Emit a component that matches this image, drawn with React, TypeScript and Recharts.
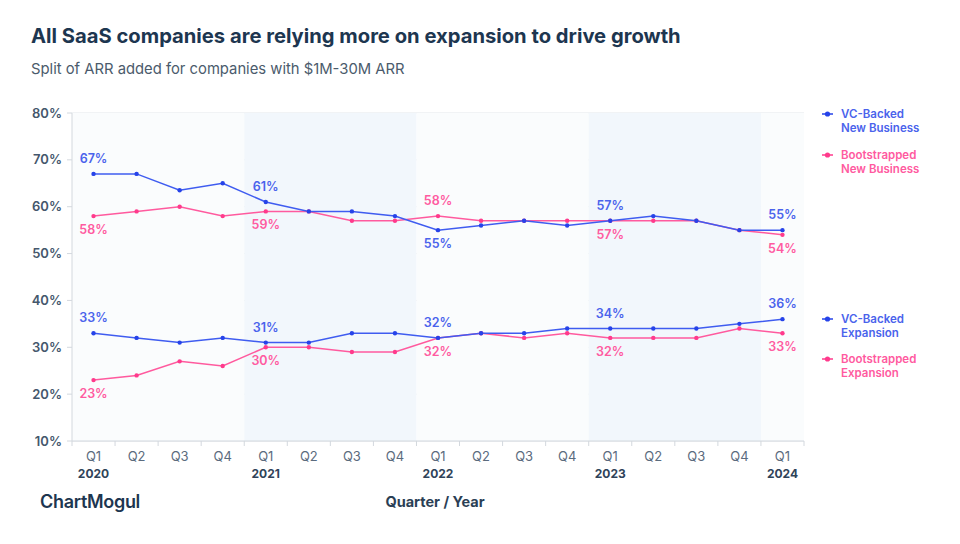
import React from 'react';
import { LineChart, Line, XAxis, YAxis, CartesianGrid, ReferenceArea, LabelList } from 'recharts';

const quarters = ['Q1', 'Q2', 'Q3', 'Q4', 'Q1', 'Q2', 'Q3', 'Q4', 'Q1', 'Q2', 'Q3', 'Q4', 'Q1', 'Q2', 'Q3', 'Q4', 'Q1'];
const years = ['2020', '2021', '2022', '2023', '2024'];

const vcNew = [67, 67, 63.5, 65, 61, 59, 59, 58, 55, 56, 57, 56, 57, 58, 57, 55, 55];
const bsNew = [58, 59, 60, 58, 59, 59, 57, 57, 58, 57, 57, 57, 57, 57, 57, 55, 54];
const vcExp = [33, 32, 31, 32, 31, 31, 33, 33, 32, 33, 33, 34, 34, 34, 34, 35, 36];
const bsExp = [23, 24, 27, 26, 30, 30, 29, 29, 32, 33, 32, 33, 32, 32, 32, 34, 33];

const yTicks = [10, 20, 30, 40, 50, 60, 70, 80];

const BLUE = '#3f5cf0';
const BLUE_DOT = '#2643e9';
const BLUE_TEXT = '#4a63ec';
const PINK = '#ff5a9e';
const PINK_DOT = '#ff3a8c';
const PINK_TEXT = '#ff5aa0';
const NAVY = '#1d3650';

const data = quarters.map((q, i) => ({
  i,
  q,
  year: i % 4 === 0 ? years[i / 4] : '',
  vcNew: vcNew[i],
  bsNew: bsNew[i],
  vcExp: vcExp[i],
  bsExp: bsExp[i],
}));

// tick values: category centres (labels) and band edges (tick marks)
const xTicks: number[] = [];
for (let k = -0.5; k <= quarters.length - 0.5; k += 0.5) xTicks.push(k);

const yearBands = years.map((y, yi) => ({
  year: y,
  x1: yi * 4 - 0.5,
  x2: Math.min(yi * 4 + 3.5, quarters.length - 0.5),
  shaded: yi % 2 === 1,
}));

const font = 'Inter, "Noto Sans", sans-serif';

function XTick(props: any) {
  const { x, y, payload } = props;
  const v = payload.value;
  if (!Number.isInteger(v)) {
    return <line x1={x} x2={x} y1={y} y2={y + 5} stroke="#d3d8de" strokeWidth={1} />;
  }
  const d = data[v];
  return (
    <g>
      <text x={x} y={y + 19.5} textAnchor="middle" fontFamily={font} fontSize={13} fill="#5b6b7e">
        {d.q}
      </text>
      {d.year && (
        <text x={x} y={y + 36.5} textAnchor="middle" fontFamily={font} fontSize={12} fontWeight={700} fill="#2f4359">
          {d.year}
        </text>
      )}
    </g>
  );
}

function makeLabel(own: number[], other: number[], color: string, preferAbove: boolean) {
  return (props: any) => {
    const { x, y, index } = props;
    if (index % 4 !== 0) return null;
    const above = preferAbove ? own[index] >= other[index] : own[index] > other[index];
    return (
      <text
        x={x}
        y={above ? y - 11 : y + 18}
        textAnchor="middle"
        fontFamily={font}
        fontSize={12.5}
        fontWeight={600}
        fill={color}
      >
        {`${own[index]}%`}
      </text>
    );
  };
}

const legendItems = [
  { lines: ['VC-Backed', 'New Business'], color: BLUE_TEXT, dot: BLUE_DOT, top: 107 },
  { lines: ['Bootstrapped', 'New Business'], color: PINK_TEXT, dot: PINK_DOT, top: 148 },
  { lines: ['VC-Backed', 'Expansion'], color: BLUE_TEXT, dot: BLUE_DOT, top: 312 },
  { lines: ['Bootstrapped', 'Expansion'], color: PINK_TEXT, dot: PINK_DOT, top: 352 },
];

export default function App() {
  return (
    <div style={{ position: 'absolute', left: 0, top: 0, width: 960, height: 544, background: '#fff', fontFamily: font }}>
      <div style={{ position: 'absolute', left: 31, top: 23, fontSize: 20.2, fontWeight: 700, color: NAVY, whiteSpace: 'nowrap' }}>
        All SaaS companies are relying more on expansion to drive growth
      </div>
      <div style={{ position: 'absolute', left: 31, top: 60, fontSize: 14.8, color: '#4b5b6c', whiteSpace: 'nowrap' }}>
        Split of ARR added for companies with $1M-30M ARR
      </div>

      <LineChart
        width={960}
        height={544}
        data={data}
        margin={{ top: 113, right: 156, bottom: 63, left: 0 }}
        style={{ position: 'absolute', left: 0, top: 0 }}
      >
        {yearBands.map((b) => (
          <ReferenceArea
            key={b.year}
            x1={b.x1}
            x2={b.x2}
            y1={10}
            y2={80}
            fill={b.shaded ? '#f2f7fc' : '#fafcfd'}
            fillOpacity={1}
            stroke="none"
            ifOverflow="visible"
          />
        ))}
        <CartesianGrid vertical={false} stroke="#e3e6ea" strokeWidth={1} />
        <XAxis
          dataKey="i"
          type="number"
          domain={[-0.5, quarters.length - 0.5]}
          ticks={xTicks}
          interval={0}
          tick={<XTick />}
          tickLine={false}
          tickSize={0}
          tickMargin={0}
          axisLine={{ stroke: '#d3d8de' }}
          height={40}
        />
        <YAxis
          type="number"
          domain={[10, 80]}
          ticks={yTicks}
          tickFormatter={(v) => `${v}%`}
          width={72}
          tickSize={5}
          tickMargin={5}
          tickLine={{ stroke: '#d3d8de' }}
          axisLine={{ stroke: '#d3d8de' }}
          tick={{ fontFamily: font, fontSize: 13, fontWeight: 600, fill: '#44576c' }}
        />
        <Line dataKey="bsNew" stroke={PINK} strokeWidth={1.5} dot={{ r: 2.2, fill: PINK_DOT, stroke: 'none' }} isAnimationActive={false}>
          <LabelList dataKey="bsNew" content={makeLabel(bsNew, vcNew, PINK_TEXT, false)} />
        </Line>
        <Line dataKey="vcNew" stroke={BLUE} strokeWidth={1.5} dot={{ r: 2.2, fill: BLUE_DOT, stroke: 'none' }} isAnimationActive={false}>
          <LabelList dataKey="vcNew" content={makeLabel(vcNew, bsNew, BLUE_TEXT, true)} />
        </Line>
        <Line dataKey="bsExp" stroke={PINK} strokeWidth={1.5} dot={{ r: 2.2, fill: PINK_DOT, stroke: 'none' }} isAnimationActive={false}>
          <LabelList dataKey="bsExp" content={makeLabel(bsExp, vcExp, PINK_TEXT, false)} />
        </Line>
        <Line dataKey="vcExp" stroke={BLUE} strokeWidth={1.5} dot={{ r: 2.2, fill: BLUE_DOT, stroke: 'none' }} isAnimationActive={false}>
          <LabelList dataKey="vcExp" content={makeLabel(vcExp, bsExp, BLUE_TEXT, true)} />
        </Line>
      </LineChart>

      {legendItems.map((it) => (
        <div key={it.lines.join(' ') + it.top} style={{ position: 'absolute', left: 821, top: it.top }}>
          <svg width={14} height={14} style={{ position: 'absolute', left: 0, top: 0 }}>
            <line x1={1} x2={12} y1={7} y2={7} stroke={it.dot} strokeWidth={1.5} />
            <circle cx={6.5} cy={7} r={2.6} fill={it.dot} />
          </svg>
          <div style={{ position: 'absolute', left: 20, top: 0, fontSize: 11.5, fontWeight: 600, lineHeight: '14px', color: it.color, whiteSpace: 'nowrap' }}>
            {it.lines[0]}
            <br />
            {it.lines[1]}
          </div>
        </div>
      ))}

      <div style={{ position: 'absolute', left: 40, top: 491, fontSize: 18, fontWeight: 600, color: NAVY, letterSpacing: -0.3 }}>
        ChartMogul
      </div>
      <div style={{ position: 'absolute', left: 0, width: 870, top: 493, textAlign: 'center', fontSize: 14.5, fontWeight: 700, color: '#2b3f55' }}>
        Quarter / Year
      </div>
    </div>
  );
}
